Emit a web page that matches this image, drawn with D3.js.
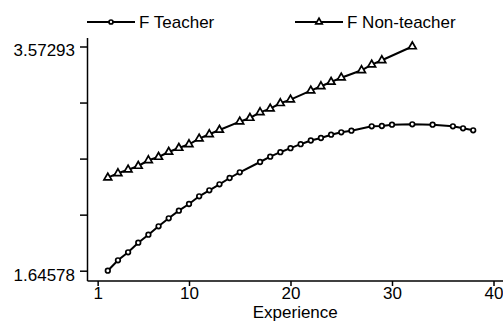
<!DOCTYPE html>
<meta charset="utf-8" />
<title>Experience profile</title>
<style>
  body { margin: 0; background: #fff; }
  svg { display: block; }
  text {
    font-family: "Liberation Sans", Arial, sans-serif;
    font-size: 17px;
    fill: #000;
  }
  .series { fill: none; stroke: #000; stroke-width: 2px; }
  .mark { fill: #fff; stroke: #000; stroke-width: 1.7px; }
  .axisline { stroke: #000; stroke-width: 1.5px; }
</style>
<body>
<svg width="503" height="321"></svg>
<script src="https://d3js.org/d3.v7.min.js"></script>
<script>
// F Teacher (circles)
const teacherX = [2, 3, 4, 5, 6, 7, 8, 9, 10, 11, 12, 13, 14, 15, 17, 18, 19, 20, 21, 22,
  23, 24, 25, 26, 28, 29, 30, 32, 34, 36, 37, 38];
const teacherY = [1.64578, 1.7352, 1.8039, 1.8865, 1.9553, 2.0275, 2.0962, 2.1616, 2.2191,
  2.2854, 2.3369, 2.3885, 2.4427, 2.4916, 2.5802, 2.6258, 2.6644, 2.6988, 2.7332, 2.7650,
  2.7865, 2.8149, 2.8355, 2.8493, 2.8871, 2.8897, 2.9009, 2.9043, 2.9009, 2.8871, 2.8699, 2.8527];

// F Non-teacher (triangles)
const nonTeacherX = [2, 3, 4, 5, 6, 7, 8, 9, 10, 11, 12, 13, 15, 16, 17, 18, 19, 20, 22,
  23, 24, 25, 27, 28, 29, 32];
const nonTeacherY = [2.4452, 2.4831, 2.5140, 2.5458, 2.5948, 2.6232, 2.6662, 2.7005, 2.7323,
  2.7805, 2.8183, 2.8553, 2.9266, 2.9584, 3.0074, 3.0384, 3.0848, 3.1157, 3.1931, 3.2309,
  3.2679, 3.3048, 3.3684, 3.4166, 3.4544, 3.57293];

const xTicks = [1, 10, 20, 30, 40];
const yTicks = [1.64578, 2.12757, 2.60936, 3.09114, 3.57293];
const yTickLabels = ["1.64578", "", "", "", "3.57293"];
const seriesNames = ["F Teacher", "F Non-teacher"];

const svg = d3.select("svg");

const x = d3.scaleLinear().domain([0, 40]).range([87.5, 493.5]);
const y = d3.scaleLinear().domain([1.64578, 3.57293]).range([270.7, 46.5]);

const axisLeftX = 87.5, axisBottomY = 281;

// axes
const xAxis = svg.append("g")
  .attr("transform", `translate(0,${axisBottomY})`)
  .call(d3.axisBottom(x).tickValues(xTicks).tickSize(5).tickSizeOuter(0).tickPadding(1));
xAxis.select(".domain").remove();
xAxis.selectAll(".tick line").attr("stroke", "#000").attr("stroke-width", 1.5);
xAxis.selectAll("text").attr("font-size", null).attr("font-family", null);

const yAxis = svg.append("g")
  .attr("transform", `translate(${axisLeftX},0)`)
  .call(d3.axisLeft(y).tickValues(yTicks).tickSize(7.5).tickSizeOuter(0).tickPadding(5)
    .tickFormat((d, i) => yTickLabels[i]));
yAxis.select(".domain").remove();
yAxis.selectAll(".tick line").attr("stroke", "#000").attr("stroke-width", 1.5);
yAxis.selectAll("text").attr("font-size", null).attr("font-family", null).attr("dy", "0.55em");

svg.append("line").attr("class", "axisline")
  .attr("x1", axisLeftX).attr("x2", axisLeftX).attr("y1", 38).attr("y2", axisBottomY);
svg.append("line").attr("class", "axisline")
  .attr("x1", axisLeftX).attr("x2", 503).attr("y1", axisBottomY).attr("y2", axisBottomY);

svg.append("text")
  .attr("x", (axisLeftX + 503) / 2).attr("y", 318)
  .attr("text-anchor", "middle")
  .text("Experience");

// series
const line = d3.line().x(d => x(d[0])).y(d => y(d[1]));
const teacher = teacherX.map((v, i) => [v, teacherY[i]]);
const nonTeacher = nonTeacherX.map((v, i) => [v, nonTeacherY[i]]);

const tri = d3.symbol().type(d3.symbolTriangle).size(26);

svg.append("path").attr("class", "series").attr("d", line(teacher));
svg.append("path").attr("class", "series").attr("d", line(nonTeacher));

svg.append("g").selectAll("circle")
  .data(teacher).join("circle")
  .attr("class", "mark")
  .attr("cx", d => x(d[0])).attr("cy", d => y(d[1]))
  .attr("r", 2.3);

svg.append("g").selectAll("path")
  .data(nonTeacher).join("path")
  .attr("class", "mark")
  .attr("transform", d => `translate(${x(d[0])},${y(d[1])})`)
  .attr("d", tri);

// legend
const legend = svg.append("g");
const legendItems = [
  { name: seriesNames[0], x0: 87, marker: "circle" },
  { name: seriesNames[1], x0: 295, marker: "triangle" }
];
legendItems.forEach(it => {
  const g = legend.append("g").attr("transform", `translate(${it.x0},22)`);
  g.append("line").attr("class", "series").attr("x1", 0).attr("x2", 48).attr("y1", 0).attr("y2", 0);
  if (it.marker === "circle") {
    g.append("circle").attr("class", "mark").attr("cx", 24).attr("cy", 0).attr("r", 2);
  } else {
    g.append("path").attr("class", "mark").attr("transform", "translate(24,0)")
      .attr("d", d3.symbol().type(d3.symbolTriangle).size(18));
  }
  g.append("text").attr("x", 52).attr("y", 5.5).text(it.name);
});
</script>
</body>
